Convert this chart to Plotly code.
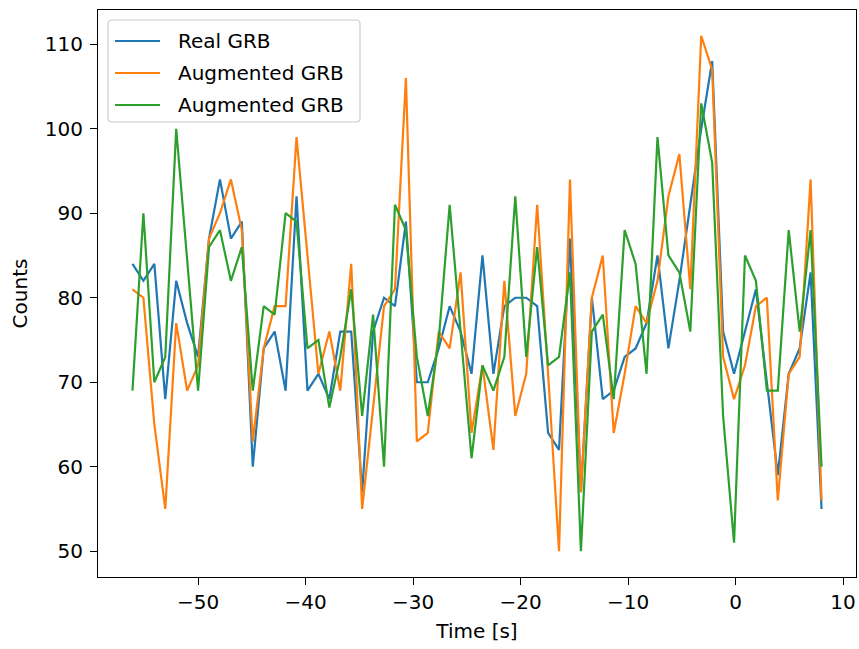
import numpy as np
import plotly.graph_objects as go

# Time grid of the light curve (64 bins)
t_start, t_end, n_bins = -56.1, 8.0, 64
time_s = np.linspace(t_start, t_end, n_bins)

real_grb = [84, 82, 84, 68, 82, 77, 73, 87, 94, 87, 89, 60, 74, 76, 69, 92,
            69, 71, 68, 76, 76, 57, 76, 80, 79, 89, 70, 70, 74, 79, 76, 71,
            85, 71, 79, 80, 80, 79, 64, 62, 87, 57, 80, 68, 69, 73, 74, 77,
            85, 74, 82, 91, 100, 108, 76, 71, 76, 81, 70, 59, 71, 74, 83, 55]

augmented_1 = [81, 80, 65, 55, 77, 69, 72, 87, 90, 94, 88, 63, 74, 79, 79, 99,
               85, 71, 76, 69, 84, 55, 67, 79, 81, 106, 63, 64, 76, 74, 83, 64,
               72, 62, 82, 66, 71, 91, 71, 50, 94, 57, 80, 85, 64, 71, 79, 77,
               82, 92, 97, 81, 111, 107, 73, 68, 72, 79, 80, 56, 71, 73, 94, 56]

augmented_2 = [69, 90, 70, 73, 100, 84, 69, 86, 88, 82, 86, 69, 79, 78, 90, 89,
               74, 75, 67, 73, 81, 66, 78, 60, 91, 88, 73, 66, 75, 91, 76, 61,
               72, 69, 73, 92, 73, 86, 72, 73, 83, 50, 76, 78, 68, 88, 84, 71,
               99, 85, 83, 76, 103, 96, 66, 51, 85, 82, 69, 69, 88, 76, 88, 60]

series_names = ["Real GRB", "Augmented GRB", "Augmented GRB"]
series_values = [real_grb, augmented_1, augmented_2]
series_colors = ["#1f77b4", "#ff7f0e", "#2ca02c"]

x_ticks = [-50, -40, -30, -20, -10, 0, 10]
y_ticks = [50, 60, 70, 80, 90, 100, 110]

W, H = 859, 649
L, R, T, B = 98, 3, 10, 72
FONT = "DejaVu Sans"
FS = 20

fig = go.Figure()
for name, vals, col in zip(series_names, series_values, series_colors):
    fig.add_trace(go.Scatter(x=time_s, y=vals, mode="lines", name=name,
                             line=dict(color=col, width=2.2), showlegend=False))

# autoscale with 5% padding on each side
span_x = t_end - t_start
all_y = real_grb + augmented_1 + augmented_2
span_y = max(all_y) - min(all_y)
x_range = [t_start - 0.05 * span_x, t_end + 0.05 * span_x]
y_range = [min(all_y) - 0.05 * span_y, max(all_y) + 0.05 * span_y]

axis_common = dict(showline=True, mirror=True, linecolor="black", linewidth=1.2,
                   ticks="outside", ticklen=7, tickwidth=1.2, tickcolor="black",
                   showgrid=False, zeroline=False,
                   tickfont=dict(family=FONT, size=FS, color="#000"))

fig.update_layout(
    width=W, height=H,
    margin=dict(l=L, r=R, t=T, b=B, autoexpand=False),
    paper_bgcolor="white", plot_bgcolor="white",
    font=dict(family=FONT, size=FS, color="#000"),
    xaxis=dict(range=x_range, tickvals=x_ticks, **axis_common,
               title=dict(text="Time [s]", font=dict(family=FONT, size=FS), standoff=10)),
    yaxis=dict(range=y_range, tickvals=y_ticks, ticklabelstandoff=3, **axis_common,
               title=dict(text="Counts", font=dict(family=FONT, size=FS), standoff=11)),
)

# legend drawn in plot-area pixel positions
pw, ph = W - L - R, H - T - B


def px(xp):
    return (xp - L) / pw


def py(yp):
    return (H - B - yp) / ph


x0, x1, y0, y1, r = 108, 360, 20, 122, 4
path = (f"M {px(x0 + r)},{py(y0)} L {px(x1 - r)},{py(y0)} "
        f"Q {px(x1)},{py(y0)} {px(x1)},{py(y0 + r)} L {px(x1)},{py(y1 - r)} "
        f"Q {px(x1)},{py(y1)} {px(x1 - r)},{py(y1)} L {px(x0 + r)},{py(y1)} "
        f"Q {px(x0)},{py(y1)} {px(x0)},{py(y1 - r)} L {px(x0)},{py(y0 + r)} "
        f"Q {px(x0)},{py(y0)} {px(x0 + r)},{py(y0)} Z")
fig.add_shape(type="path", path=path, xref="paper", yref="paper",
              fillcolor="rgba(255,255,255,0.8)", line=dict(color="#cccccc", width=1.2))

row_y = [41, 73, 105]
for name, col, yy in zip(series_names, series_colors, row_y):
    fig.add_shape(type="line", xref="paper", yref="paper",
                  x0=px(115), x1=px(160), y0=py(yy), y1=py(yy),
                  line=dict(color=col, width=2.2))
    fig.add_annotation(x=px(176), y=py(yy), xref="paper", yref="paper",
                       text=name, showarrow=False, xanchor="left", yanchor="middle",
                       font=dict(family=FONT, size=FS, color="#000"))

fig.write_html("out.html")
